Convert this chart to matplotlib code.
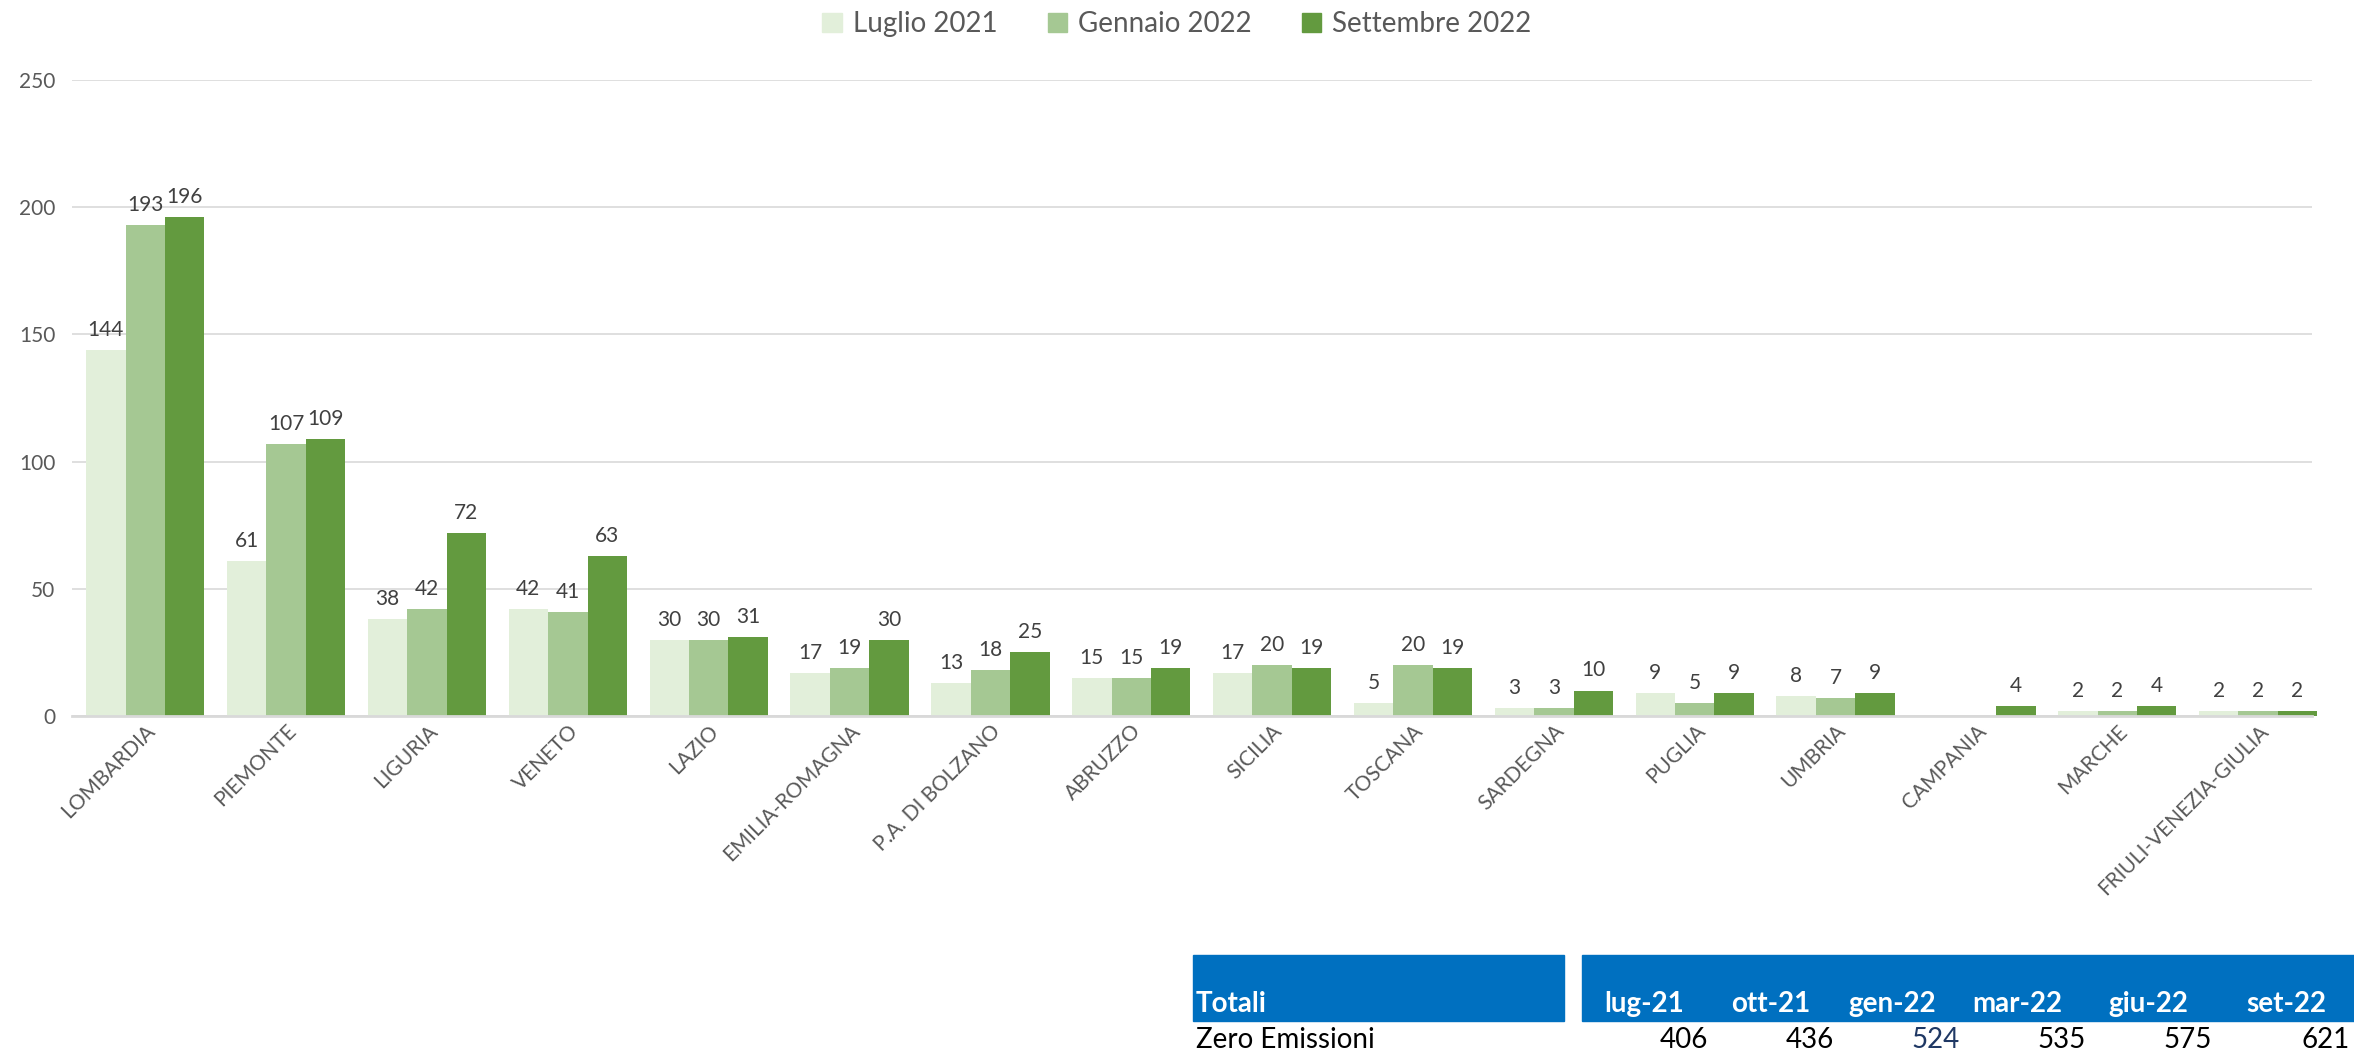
import numpy as np
import matplotlib.pyplot as plt
from matplotlib.patches import Rectangle, Patch

plt.rcParams['font.family'] = ['Lato', 'DejaVu Sans']

# Dati per regione
regioni = ['LOMBARDIA', 'PIEMONTE', 'LIGURIA', 'VENETO', 'LAZIO', 'EMILIA-ROMAGNA',
           'P.A. DI BOLZANO', 'ABRUZZO', 'SICILIA', 'TOSCANA', 'SARDEGNA', 'PUGLIA',
           'UMBRIA', 'CAMPANIA', 'MARCHE', 'FRIULI-VENEZIA-GIULIA']
luglio_2021 = [144, 61, 38, 42, 30, 17, 13, 15, 17, 5, 3, 9, 8, np.nan, 2, 2]
gennaio_2022 = [193, 107, 42, 41, 30, 19, 18, 15, 20, 20, 3, 5, 7, np.nan, 2, 2]
settembre_2022 = [196, 109, 72, 63, 31, 30, 25, 19, 19, 19, 10, 9, 9, 4, 4, 2]
serie = ['Luglio 2021', 'Gennaio 2022', 'Settembre 2022']
colori = ['#E2EFDA', '#A5C893', '#639A3F']

# Tabella totali
mesi = ['lug-21', 'ott-21', 'gen-22', 'mar-22', 'giu-22', 'set-22']
totali = [406, 436, 524, 535, 575, 621]

fig = plt.figure(figsize=(23.54, 10.53), dpi=100)
ax = fig.add_axes([0.0306, 0.320, 0.9514, 0.604])

x = np.arange(len(regioni))
w = 0.28
testo = '#595959'
for k, (vals, col) in enumerate(zip([luglio_2021, gennaio_2022, settembre_2022], colori)):
    pos = x + (k - 1) * w
    ax.bar(pos, vals, width=w, color=col, zorder=2, clip_on=False)
    for px, v in zip(pos, vals):
        if not np.isnan(v):
            ax.text(px, v + 4, f'{int(v)}', ha='center', va='bottom',
                    fontsize=15, color='#404040')

ax.set_xlim(-0.52, 15.38)
ax.set_ylim(0, 250)
ax.set_yticks(range(0, 251, 50))
ax.grid(axis='y', color='#D9D9D9', lw=1.2, zorder=0)
for s in ['top', 'right', 'left']:
    ax.spines[s].set_visible(False)
ax.spines['bottom'].set_color('#D9D9D9')
ax.spines['bottom'].set_linewidth(2)
ax.tick_params(length=0, labelsize=15, colors=testo)
ax.tick_params(axis='y', pad=12)
ax.set_xticks(x)
ax.set_xticklabels(regioni, rotation=45, ha='right', rotation_mode='anchor', fontsize=15)

handles = [Patch(color=c) for c in colori]
fig.legend(handles, serie, loc='center', bbox_to_anchor=(0.5, 0.977), ncol=3,
           frameon=False, fontsize=20, handlelength=0.7, handleheight=0.7,
           columnspacing=1.8, handletextpad=0.4, labelcolor=testo)

# Tabella in basso
blu = '#0070C0'
fig.patches.append(Rectangle((1193 / 2354, 1 - 1021 / 1053), 371 / 2354, 66 / 1053,
                             transform=fig.transFigure, color=blu))
fig.patches.append(Rectangle((1582 / 2354, 1 - 1021 / 1053), 772 / 2354, 66 / 1053,
                             transform=fig.transFigure, color=blu))
fig.text(1196 / 2354, 1 - 1012 / 1053, 'Totali', color='white', fontweight='bold',
         fontsize=20, va='baseline')
fig.text(1196 / 2354, 1 - 1048 / 1053, 'Zero Emissioni', color='black',
         fontsize=20, va='baseline')
col_x = [1708, 1834, 1960, 2086, 2212, 2350]
for cx, m, t in zip(col_x, mesi, totali):
    fig.text((cx - 24) / 2354, 1 - 1012 / 1053, m, color='white', fontweight='bold',
             fontsize=20, ha='right', va='baseline')
    fig.text(cx / 2354, 1 - 1048 / 1053, f'{t}', color='#1F3864' if t == 524 else 'black',
             fontsize=20, ha='right', va='baseline')

fig.savefig('out.png', dpi=100)
